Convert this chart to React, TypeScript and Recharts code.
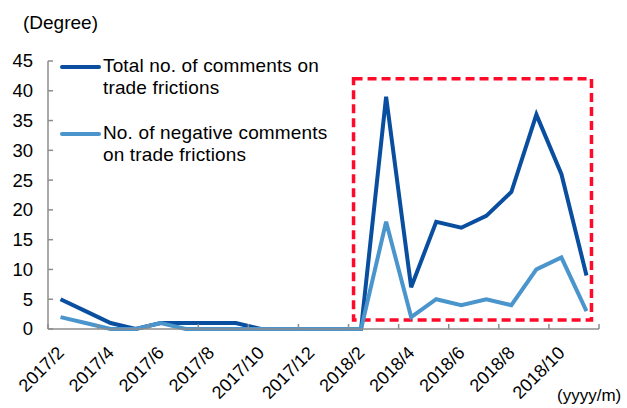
import { LineChart, Line, XAxis, YAxis, ReferenceArea } from "recharts";

const months = [
  "2017/2", "2017/3", "2017/4", "2017/5", "2017/6", "2017/7", "2017/8", "2017/9",
  "2017/10", "2017/11", "2017/12", "2018/1", "2018/2", "2018/3", "2018/4", "2018/5",
  "2018/6", "2018/7", "2018/8", "2018/9", "2018/10", "2018/11",
];
const totalComments = [5, 3, 1, 0, 1, 1, 1, 1, 0, 0, 0, 0, 0, 39, 7, 18, 17, 19, 23, 36, 26, 9];
const negativeComments = [2, 1, 0, 0, 1, 0, 0, 0, 0, 0, 0, 0, 0, 18, 2, 5, 4, 5, 4, 10, 12, 3];
const yTicks = [0, 5, 10, 15, 20, 25, 30, 35, 40, 45];
// tick marks sit on category boundaries, every second month
const xBoundaries = [-0.5, 1.5, 3.5, 5.5, 7.5, 9.5, 11.5, 13.5, 15.5, 17.5, 19.5, 21.5];
const legendItems = [
  { key: "total", lines: ["Total no. of comments on", "trade frictions"] },
  { key: "negative", lines: ["No. of negative comments", "on trade frictions"] },
];

const data = months.map((m, i) => ({
  idx: i,
  month: m,
  total: totalComments[i],
  negative: negativeComments[i],
}));

const DARK = "#0a4f9f";
const LIGHT = "#4b95cd";
const AXIS = "#8c8c8c";
const FONT = "'Liberation Sans', Arial, sans-serif";
const colors: Record<string, string> = { total: DARK, negative: LIGHT };

const W = 627;
const H = 408;
const M = { top: 61, right: 28, bottom: 0, left: 0 };
const Y_W = 48;
const X_H = 79;
const halfBand = (W - M.left - M.right - Y_W) / months.length / 2;

function XTick(props: any) {
  const { x, y, payload } = props;
  const pos = Math.round(payload.value + 0.5);
  const label = months[pos];
  const lx = x + halfBand + 4.5;
  const ly = y + 25;
  return (
    <g>
      <line x1={x} y1={y} x2={x} y2={y - 5} stroke={AXIS} strokeWidth={1.5} />
      {label && pos % 2 === 0 && (
        <text x={lx} y={ly} textAnchor="end" fontSize={18} fill="#000" fontFamily={FONT}
          transform={`rotate(-45 ${lx} ${ly})`}>
          {label}
        </text>
      )}
    </g>
  );
}

function YTick(props: any) {
  const { x, y, payload } = props;
  return (
    <g>
      <line x1={x} y1={y} x2={x + 5} y2={y} stroke={AXIS} strokeWidth={1.5} />
      <text x={x - 15} y={y} dy="0.35em" textAnchor="end" fontSize={18.5} fill="#000" fontFamily={FONT}>
        {payload.value}
      </text>
    </g>
  );
}

function LegendBox() {
  return (
    <div style={{ position: "absolute", left: 60, top: 55, fontSize: 19, letterSpacing: 0.15, lineHeight: "22px", color: "#000" }}>
      {legendItems.map((it, i) => (
        <div key={it.key} style={{ display: "flex", alignItems: "flex-start", marginBottom: i === 0 ? 23 : 0 }}>
          <div style={{ width: 41, height: 4, background: colors[it.key], marginTop: 10, marginRight: 2, borderRadius: 2 }} />
          <div>
            {it.lines.map((l, j) => (
              <div key={j}>{l}</div>
            ))}
          </div>
        </div>
      ))}
    </div>
  );
}

export default function App() {
  return (
    <div style={{ position: "absolute", left: 0, top: 0, width: W, height: H, background: "#fff", fontFamily: FONT }}>
      <LineChart width={W} height={H} data={data} margin={M}>
        <XAxis
          type="number"
          dataKey="idx"
          domain={[-0.5, 21.5]}
          ticks={xBoundaries}
          interval={0}
          height={X_H}
          tickSize={0}
          tickMargin={0}
          tick={<XTick />}
          axisLine={{ stroke: AXIS, strokeWidth: 1.5 }}
          tickLine={false}
        />
        <YAxis
          domain={[0, 45]}
          ticks={yTicks}
          interval={0}
          width={Y_W}
          tickSize={0}
          tickMargin={0}
          tick={<YTick />}
          axisLine={{ stroke: AXIS, strokeWidth: 1.5 }}
          tickLine={false}
        />
        <Line type="linear" dataKey="total" stroke={DARK} strokeWidth={4} dot={false} isAnimationActive={false} />
        <Line type="linear" dataKey="negative" stroke={LIGHT} strokeWidth={4} dot={false} isAnimationActive={false} />
        <ReferenceArea
          x1={11.7}
          x2={21.2}
          y1={1.5}
          y2={42}
          fill="none"
          stroke="#ff0a2a"
          strokeWidth={3.5}
          strokeDasharray="9 5"
          ifOverflow="visible"
        />
      </LineChart>
      <div style={{ position: "absolute", left: 23, top: 12, fontSize: 19, lineHeight: "22px" }}>(Degree)</div>
      <div style={{ position: "absolute", left: 557, top: 386, fontSize: 17, lineHeight: "20px" }}>(yyyy/m)</div>
      <LegendBox />
    </div>
  );
}
